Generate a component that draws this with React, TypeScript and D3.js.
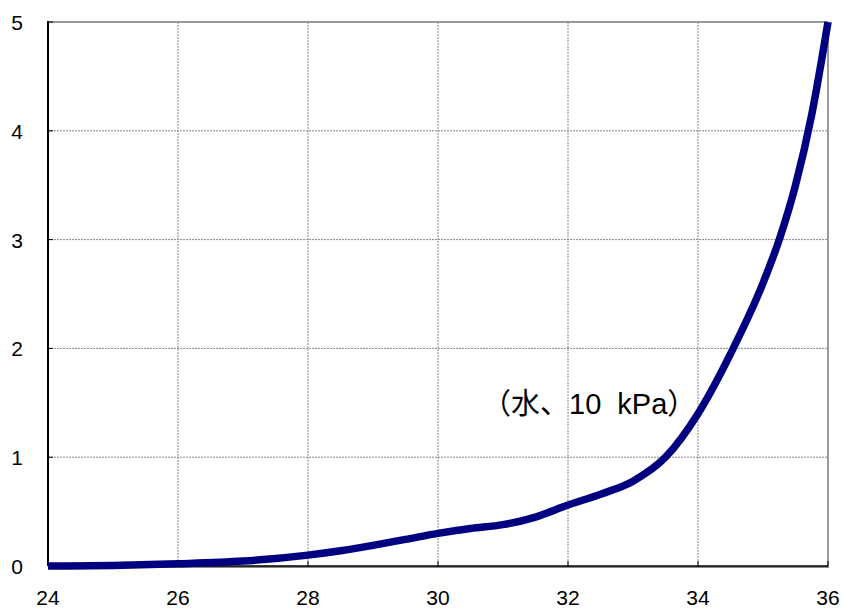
import React from "react";
import * as d3 from "d3";

const xs = [24, 25, 26, 27, 28, 28.5, 29, 29.5, 30, 30.5, 31, 31.5, 32, 32.5, 33, 33.5, 34, 34.5, 35, 35.25, 35.5, 35.75, 36];
const ys = [0, 0.005, 0.02, 0.045, 0.1, 0.14, 0.19, 0.245, 0.3, 0.345, 0.38, 0.45, 0.56, 0.66, 0.78, 1.0, 1.4, 1.95, 2.6, 3.0, 3.5, 4.15, 5.0];
const xTicks = [24, 26, 28, 30, 32, 34, 36];
const yTicks = [0, 1, 2, 3, 4, 5];
const label = "（水、10  kPa）";

export default function App() {
  const W = 843, H = 610;
  const x = d3.scaleLinear().domain([24, 36]).range([48, 828]);
  const y = d3.scaleLinear().domain([0, 5]).range([566, 22]);
  const pts = xs.map((v, i) => [v, ys[i]] as [number, number]);
  const line = d3.line<[number, number]>().x(d => x(d[0])).y(d => y(d[1])).curve(d3.curveMonotoneX);
  const font = "'Liberation Sans Narrow', 'Liberation Sans', Arial, sans-serif";
  return (
    <svg width={W} height={H} style={{ position: "absolute", left: 0, top: 0, background: "#fff" }}>
      {xTicks.slice(1, -1).map(t => (
        <line key={"gx" + t} x1={x(t)} x2={x(t)} y1={y(5)} y2={y(0)} stroke="#888" strokeWidth={1} strokeDasharray="2,1" />
      ))}
      {yTicks.slice(1, -1).map(t => (
        <line key={"gy" + t} x1={x(24)} x2={x(36)} y1={y(t)} y2={y(t)} stroke="#888" strokeWidth={1} strokeDasharray="2,1" />
      ))}
      <line x1={x(24)} x2={x(36)} y1={y(5)} y2={y(5)} stroke="#999" strokeWidth={2} />
      <line x1={x(36)} x2={x(36)} y1={y(5)} y2={y(0)} stroke="#999" strokeWidth={2} />
      <line x1={x(24)} x2={x(36) + 1} y1={y(0) + 1} y2={y(0) + 1} stroke="#888" strokeWidth={2} />
      <line x1={x(24)} x2={x(36)} y1={y(0)} y2={y(0)} stroke="#000" strokeWidth={1.5} />
      <line x1={x(24)} x2={x(24)} y1={y(5) - 1} y2={y(0)} stroke="#000" strokeWidth={2} />
      {xTicks.map(t => (
        <line key={"tx" + t} x1={x(t)} x2={x(t)} y1={y(0)} y2={y(0) - 5} stroke="#000" strokeWidth={1} />
      ))}
      {yTicks.map(t => (
        <line key={"ty" + t} x1={x(24)} x2={x(24) + 5} y1={y(t)} y2={y(t)} stroke="#000" strokeWidth={1} />
      ))}
      <path d={line(pts) || ""} fill="none" stroke="#000080" strokeWidth={7.5} strokeLinecap="butt" />
      {yTicks.map(t => (
        <text key={"ly" + t} x={23} y={y(t) + 8} textAnchor="end" fontFamily={font} fontSize={21} fill="#000">{t}</text>
      ))}
      {xTicks.map(t => (
        <text key={"lx" + t} x={x(t)} y={605} textAnchor="middle" fontFamily={font} fontSize={21} fill="#000">{t}</text>
      ))}
      <text x={482} y={414} fill="#000" fontSize={29} xmlSpace="preserve" style={{ whiteSpace: "pre" }}
        fontFamily="'Liberation Sans', 'Noto Sans CJK JP', sans-serif">{label}</text>
    </svg>
  );
}
